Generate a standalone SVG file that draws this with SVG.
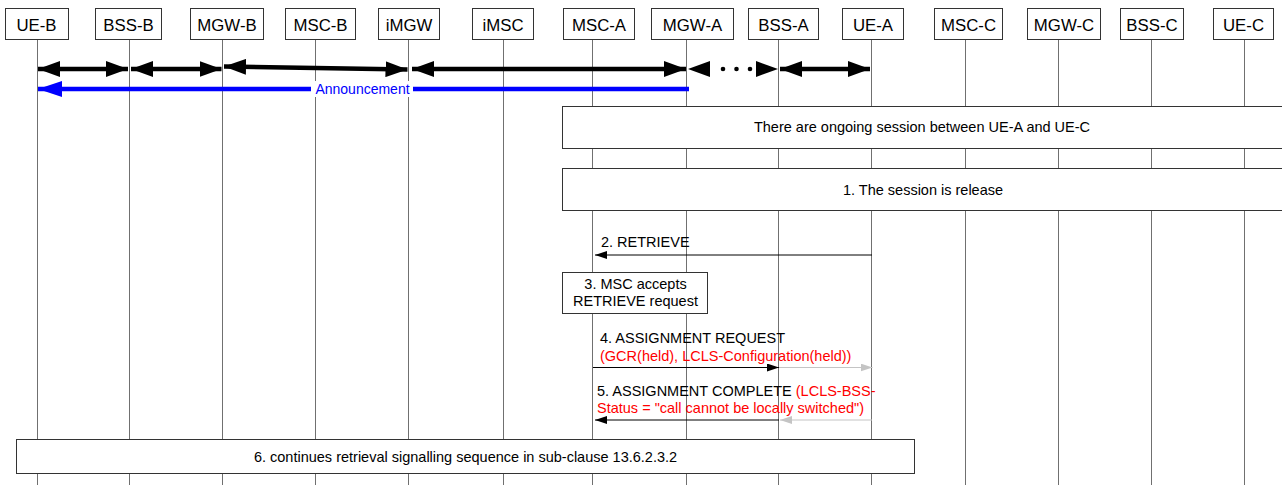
<svg xmlns="http://www.w3.org/2000/svg" width="1282" height="485" viewBox="0 0 1282 485">
<style>
text{font-family:"Liberation Sans",Arial,sans-serif;fill:#000}
.hdr{font-size:16.8px;text-anchor:middle}
.msg{font-size:14.5px}
.red{fill:#ff0000}
.mid{text-anchor:middle}
.box{fill:#fff;stroke:#333;stroke-width:1}
.life{stroke:#707070;stroke-width:1}
.thick{stroke:#000;stroke-width:4.5;fill:none;marker-start:url(#hk);marker-end:url(#hk)}
.thin{stroke:#000;stroke-width:1;fill:none;marker-end:url(#tk)}
.grey{stroke:#c4c4c4;stroke-width:1;fill:none;marker-end:url(#tg)}
</style>
<defs>
<marker id="hk" markerUnits="userSpaceOnUse" markerWidth="22" markerHeight="16" refX="22" refY="8" orient="auto-start-reverse"><path d="M0,0 L22,8 L0,16 z" fill="#000"/></marker>
<marker id="hb" markerUnits="userSpaceOnUse" markerWidth="24" markerHeight="16" refX="24" refY="8" orient="auto"><path d="M0,0 L24,8 L0,16 z" fill="#0000ff"/></marker>
<marker id="tk" markerUnits="userSpaceOnUse" markerWidth="12" markerHeight="8" refX="12" refY="4" orient="auto"><path d="M0,0 L12,4 L0,8 z" fill="#000"/></marker>
<marker id="tg" markerUnits="userSpaceOnUse" markerWidth="12" markerHeight="8" refX="12" refY="4" orient="auto"><path d="M0,0 L12,4 L0,8 z" fill="#c4c4c4"/></marker>
</defs>
<rect width="1282" height="485" fill="#fff"/>

<g id="UE-B"><line class="life" x1="37.5" y1="39.5" x2="37.5" y2="485"/><rect class="box" x="5.5" y="8.5" width="63" height="31"/><text class="hdr" x="36.5" y="30.5">UE-B</text></g>
<g id="BSS-B"><line class="life" x1="129.5" y1="39.5" x2="129.5" y2="485"/><rect class="box" x="95.5" y="8.5" width="66" height="31"/><text class="hdr" x="128.5" y="30.5">BSS-B</text></g>
<g id="MGW-B"><line class="life" x1="222.5" y1="39.5" x2="222.5" y2="485"/><rect class="box" x="190.5" y="8.5" width="73" height="31"/><text class="hdr" x="227" y="30.5">MGW-B</text></g>
<g id="MSC-B"><line class="life" x1="315.5" y1="39.5" x2="315.5" y2="485"/><rect class="box" x="285.5" y="8.5" width="70" height="31"/><text class="hdr" x="320.5" y="30.5">MSC-B</text></g>
<g id="iMGW"><line class="life" x1="408.5" y1="39.5" x2="408.5" y2="485"/><rect class="box" x="378.5" y="8.5" width="61" height="31"/><text class="hdr" x="409" y="30.5">iMGW</text></g>
<g id="iMSC"><line class="life" x1="503.5" y1="39.5" x2="503.5" y2="485"/><rect class="box" x="472.5" y="8.5" width="61" height="31"/><text class="hdr" x="503" y="30.5">iMSC</text></g>
<g id="MSC-A"><line class="life" x1="592.5" y1="39.5" x2="592.5" y2="485"/><rect class="box" x="563.5" y="8.5" width="71" height="31"/><text class="hdr" x="599" y="30.5">MSC-A</text></g>
<g id="MGW-A"><line class="life" x1="686.5" y1="39.5" x2="686.5" y2="485"/><rect class="box" x="651.5" y="8.5" width="82" height="31"/><text class="hdr" x="692.5" y="30.5">MGW-A</text></g>
<g id="BSS-A"><line class="life" x1="778.5" y1="39.5" x2="778.5" y2="485"/><rect class="box" x="748.5" y="8.5" width="70" height="31"/><text class="hdr" x="783.5" y="30.5">BSS-A</text></g>
<g id="UE-A"><line class="life" x1="871.5" y1="39.5" x2="871.5" y2="485"/><rect class="box" x="842.5" y="8.5" width="61" height="31"/><text class="hdr" x="873" y="30.5">UE-A</text></g>
<g id="MSC-C"><line class="life" x1="965.5" y1="39.5" x2="965.5" y2="485"/><rect class="box" x="934.5" y="8.5" width="68" height="31"/><text class="hdr" x="968.5" y="30.5">MSC-C</text></g>
<g id="MGW-C"><line class="life" x1="1058.5" y1="39.5" x2="1058.5" y2="485"/><rect class="box" x="1027.5" y="8.5" width="73" height="31"/><text class="hdr" x="1064" y="30.5">MGW-C</text></g>
<g id="BSS-C"><line class="life" x1="1151.5" y1="39.5" x2="1151.5" y2="485"/><rect class="box" x="1120.5" y="8.5" width="63" height="31"/><text class="hdr" x="1152" y="30.5">BSS-C</text></g>
<g id="UE-C"><line class="life" x1="1244.5" y1="39.5" x2="1244.5" y2="485"/><rect class="box" x="1213.5" y="8.5" width="60" height="31"/><text class="hdr" x="1243.5" y="30.5">UE-C</text></g>

<g id="note-ongoing"><rect class="box" x="562.5" y="106.5" width="725" height="42"/><text class="msg mid" x="922" y="132">There are ongoing session between UE-A and UE-C</text></g>
<g id="note-release"><rect class="box" x="562.5" y="168.5" width="725" height="42"/><text class="msg mid" x="923" y="194.5">1. The session is release</text></g>
<g id="note-accepts"><rect class="box" x="562.5" y="272.5" width="145" height="41"/><text class="msg mid" x="635.5" y="288.5">3. MSC accepts</text><text class="msg mid" x="635.5" y="306">RETRIEVE request</text></g>
<g id="note-continues"><rect class="box" x="16.5" y="439.5" width="898" height="34"/><text class="msg mid" x="465.5" y="462">6. continues retrieval signalling sequence in sub-clause 13.6.2.3.2</text></g>

<g id="connectors">
<line class="thick" x1="38" y1="69" x2="128" y2="69"/>
<line class="thick" x1="131" y1="69" x2="221.5" y2="69"/>
<line class="thick" x1="224" y1="66.5" x2="407.5" y2="69.5"/>
<line class="thick" x1="412" y1="69" x2="686" y2="69"/>
<line x1="688" y1="69" x2="778" y2="69" stroke="none" marker-start="url(#hk)" marker-end="url(#hk)"/>
<circle cx="723" cy="69" r="2.3" fill="#000"/>
<circle cx="736.5" cy="69" r="2.3" fill="#000"/>
<circle cx="750" cy="69" r="2.3" fill="#000"/>
<line class="thick" x1="780" y1="69" x2="870" y2="69"/>

<line x1="689" y1="89" x2="38" y2="89" stroke="#0000ff" stroke-width="4.5" marker-end="url(#hb)"/>
<rect x="311" y="81" width="102" height="16" fill="#fff"/>
<text x="362.5" y="94" font-size="14" text-anchor="middle" style="fill:#0000ff">Announcement</text>

<line class="thin" x1="872" y1="255" x2="595" y2="255"/>
<text class="msg" x="601" y="246.5">2. RETRIEVE</text>

<line class="thin" x1="593" y1="367.5" x2="779" y2="367.5"/>
<line class="grey" x1="779" y1="367.5" x2="872.5" y2="367.5"/>
<text class="msg" x="600" y="343">4. ASSIGNMENT REQUEST</text>
<text class="msg red" x="600" y="361">(GCR(held), LCLS-Configuration(held))</text>

<line class="grey" x1="872" y1="420" x2="780" y2="420"/>
<line class="thin" x1="779" y1="420" x2="595" y2="420"/>
<text class="msg" x="597" y="396">5. ASSIGNMENT COMPLETE <tspan class="red">(LCLS-BSS-</tspan></text>
<text class="msg red" x="597" y="413">Status = "call cannot be locally switched")</text>
</g>
</svg>
